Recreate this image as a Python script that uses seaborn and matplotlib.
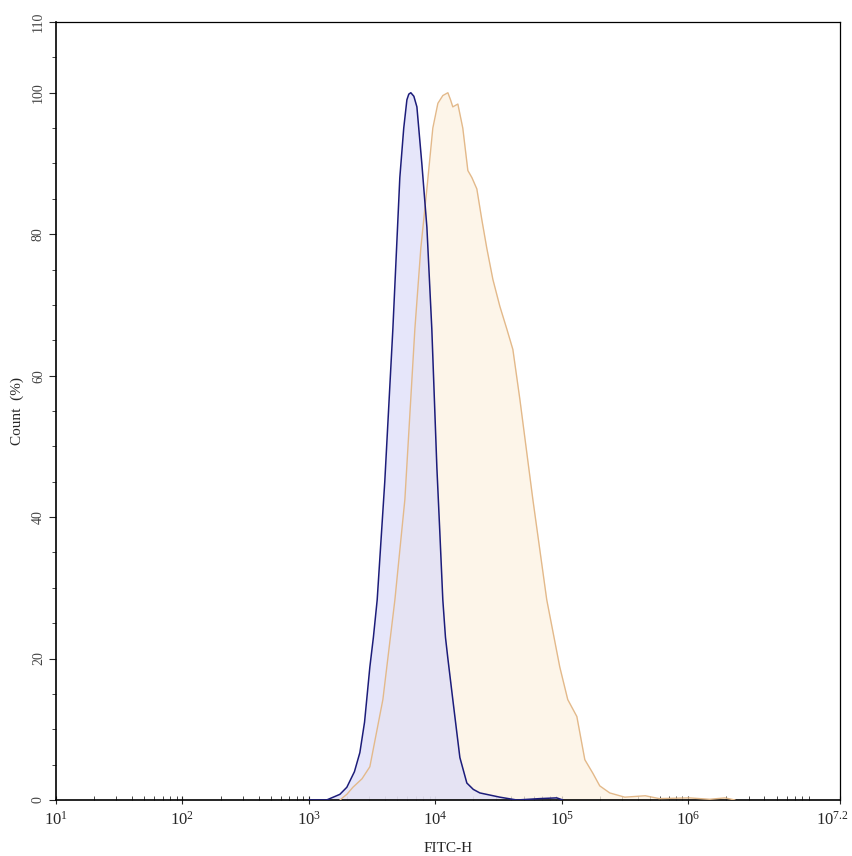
import numpy as np
import pandas as pd
import matplotlib
matplotlib.use("Agg")
import matplotlib.pyplot as plt
import matplotlib.transforms as mtransforms
import seaborn as sns
from matplotlib.ticker import FixedLocator, LogLocator, NullFormatter, FixedFormatter

# ---- data (log10 of FITC-H intensity, Count %) ----
control_log = [3.00, 3.14, 3.245, 3.30, 3.36, 3.403, 3.44, 3.482, 3.51, 3.54, 3.60, 3.664, 3.719,
               3.75, 3.775, 3.79, 3.806, 3.83, 3.854, 3.893, 3.933, 3.972, 4.012, 4.035, 4.059,
               4.08, 4.099, 4.138, 4.17, 4.194, 4.249, 4.30, 4.352, 4.51, 4.644, 4.83, 4.96, 5.008]
control_cnt = [0.0, 0.0, 0.8, 1.8, 4.0, 6.7, 11.0, 18.8, 23.0, 28.3, 45.0, 66.6, 88.0,
               95.0, 99.0, 99.8, 100.0, 99.5, 98.0, 90.0, 81.0, 66.6, 47.0, 38.0, 28.3,
               23.0, 20.0, 14.2, 9.5, 6.0, 2.4, 1.5, 1.0, 0.4, 0.0, 0.2, 0.3, 0.0]

sample_log = [3.245, 3.30, 3.348, 3.42, 3.482, 3.585, 3.680, 3.759, 3.838, 3.885, 3.933, 3.980,
              4.02, 4.059, 4.099, 4.12, 4.138, 4.178, 4.217, 4.257, 4.289, 4.328, 4.368, 4.407,
              4.455, 4.510, 4.565, 4.613, 4.668, 4.771, 4.826, 4.881, 4.984, 5.047, 5.119,
              5.182, 5.245, 5.30, 5.379, 5.498, 5.66, 5.77, 6.01, 6.17, 6.29, 6.37]
sample_cnt = [0.0, 0.8, 1.8, 3.0, 4.7, 14.2, 28.3, 42.5, 66.6, 78.0, 86.4, 95.0,
              98.5, 99.6, 100.0, 99.0, 98.0, 98.4, 95.0, 89.0, 88.0, 86.4, 82.0, 78.0,
              73.6, 69.8, 66.6, 63.7, 56.7, 42.5, 35.4, 28.3, 18.8, 14.2, 11.8,
              5.7, 3.8, 2.0, 1.0, 0.4, 0.6, 0.2, 0.3, 0.1, 0.3, 0.0]

xtick_exps = [1, 2, 3, 4, 5, 6, 7.2]
xtick_labels = [r"$10^{1}$", r"$10^{2}$", r"$10^{3}$", r"$10^{4}$", r"$10^{5}$", r"$10^{6}$", r"$10^{7.2}$"]
ytick_vals = [0, 20, 40, 60, 80, 100, 110]

# ---- style ----
sns.set_theme(style="white")
plt.rcParams["font.family"] = ["Liberation Serif", "DejaVu Serif"]
plt.rcParams["mathtext.fontset"] = "custom"
plt.rcParams["mathtext.rm"] = "Liberation Serif"
plt.rcParams["mathtext.it"] = "Liberation Serif"

ctrl = pd.DataFrame({"x": 10 ** np.array(control_log), "y": control_cnt})
samp = pd.DataFrame({"x": 10 ** np.array(sample_log), "y": sample_cnt})

fig = plt.figure(figsize=(8.53, 8.56), dpi=100)
ax = fig.add_axes([56 / 853, 1 - 800 / 856, (840 - 56) / 853, (800 - 22) / 856])

ax.fill_between(samp["x"], samp["y"], color="#fdf2e2", alpha=0.75, lw=0, zorder=1)
ax.fill_between(ctrl["x"], ctrl["y"], color="#dcdcf8", alpha=0.7, lw=0, zorder=2)
sns.lineplot(data=samp, x="x", y="y", ax=ax, color="#e3b98a", lw=1.0, zorder=3)
sns.lineplot(data=ctrl, x="x", y="y", ax=ax, color="#1c1c7a", lw=1.1, zorder=4)

ax.set_xscale("log")
ax.set_xlim(10, 10 ** 7.2)
ax.set_ylim(0, 110)

ax.xaxis.set_major_locator(FixedLocator([10 ** e for e in xtick_exps]))
ax.xaxis.set_major_formatter(FixedFormatter(xtick_labels))
ax.xaxis.set_minor_locator(LogLocator(base=10, subs=np.arange(2, 10), numticks=20))
ax.xaxis.set_minor_formatter(NullFormatter())

ax.yaxis.set_major_locator(FixedLocator(ytick_vals))
ax.yaxis.set_minor_locator(FixedLocator(np.arange(0, 111, 5)))
ax.set_yticklabels([str(v) for v in ytick_vals], rotation=90, va="center", fontsize=10, color="#444444")

ax.tick_params(axis="x", which="major", direction="inout", length=6, width=0.8, labelsize=12, pad=5, bottom=True)
ax.tick_params(axis="x", which="minor", direction="in", length=3, width=0.6, bottom=True)
ax.tick_params(axis="y", which="major", direction="out", length=5, width=0.8, pad=3, left=True)
ax.tick_params(axis="y", which="minor", direction="out", length=3, width=0.6, left=True)

# shift last x tick label left so it stays inside the figure
last = ax.get_xticklabels()[-1]
last.set_transform(last.get_transform() + mtransforms.ScaledTranslation(-8 / 100, 0, fig.dpi_scale_trans))

for side in ["left", "bottom"]:
    ax.spines[side].set_linewidth(1.2)
    ax.spines[side].set_color("black")
for side in ["top", "right"]:
    ax.spines[side].set_linewidth(0.9)
    ax.spines[side].set_color("black")

ax.set_xlabel("FITC-H", fontsize=11, labelpad=9)
ax.set_ylabel("Count  (%)", fontsize=11, labelpad=6)

fig.savefig("out.png", dpi=100)
